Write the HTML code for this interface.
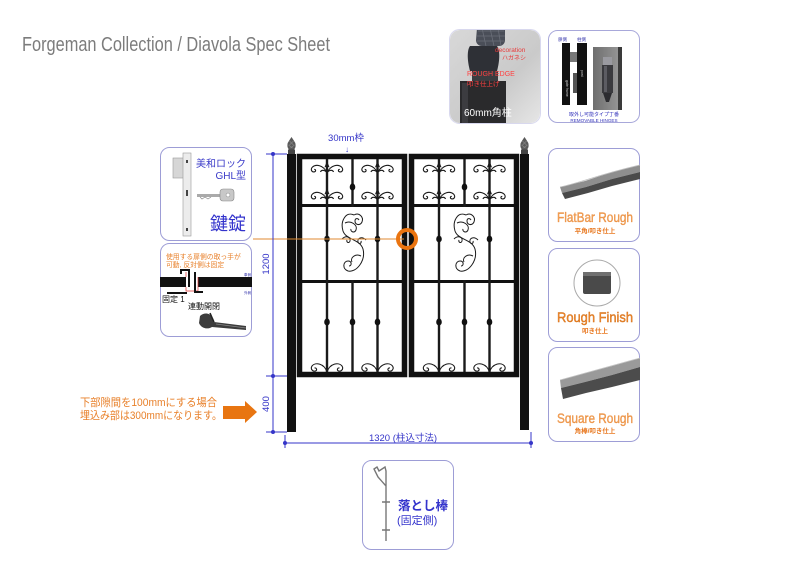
<!DOCTYPE html>
<html><head><meta charset="utf-8"><style>
html,body{margin:0;padding:0;background:#fff;}
svg{display:block;}
text{font-family:"Liberation Sans","Noto Sans CJK JP",sans-serif;}
</style></head><body>
<svg width="800" height="580" viewBox="0 0 800 580" xmlns="http://www.w3.org/2000/svg">
<defs>
  <linearGradient id="ph1" x1="0" y1="0" x2="1" y2="1">
    <stop offset="0" stop-color="#d8d8d8"/><stop offset="0.6" stop-color="#cacaca"/><stop offset="1" stop-color="#e6e6e6"/>
  </linearGradient>
  <linearGradient id="hg" x1="0" y1="0" x2="1" y2="0">
    <stop offset="0" stop-color="#6e6e6e"/><stop offset="1" stop-color="#9a9a9a"/>
  </linearGradient>
  <clipPath id="c1"><rect x="450" y="30" width="90" height="93" rx="10"/></clipPath>
  <g id="fleur" fill="none" stroke="#1a1a1a" stroke-width="1.1">
    <path d="M0,0 L2.6,6.5 L0.9,5.8 L0.9,12 L-0.9,12 L-0.9,5.8 L-2.6,6.5 Z" fill="#1a1a1a" stroke="none"/>
    <path d="M0.5,11 C4,4 11,3 14.5,6 C17,8.5 15,11.5 12.5,10.8 C10.8,10.2 11.2,8.2 12.8,8.4"/>
    <path d="M-0.5,11 C-4,4 -11,3 -14.5,6 C-17,8.5 -15,11.5 -12.5,10.8 C-10.8,10.2 -11.2,8.2 -12.8,8.4"/>
    <path d="M0.5,11 C3,8.5 6,9 6.5,11"/>
    <path d="M-0.5,11 C-3,8.5 -6,9 -6.5,11"/>
  </g>
  <g id="bcurl" fill="none" stroke="#1a1a1a" stroke-width="1.1">
    <path d="M0,10 C-3,1 -12,0 -15,4 C-17,7 -14,10 -11.5,9 C-9.5,8 -10.5,5.5 -12.5,6"/>
    <path d="M0,10 C3,1 12,0 15,4 C17,7 14,10 11.5,9 C9.5,8 10.5,5.5 12.5,6"/>
  </g>
  <g id="sscroll" fill="none" stroke="#1a1a1a" stroke-width="1">
    <path d="M0,6 C-8,2 -14,12 -11,22 C-8,31 6,30 9,40 C12,52 2,64 -6,62 C-12,60 -11,52 -6,52 C-2,52 -2,57 -5,57"/>
    <path d="M0,6 C5,3 10,8 8,13 C6,17 1,16 1,12 C1,9 4,9 5,11"/>
    <path d="M-9,14 C-3,11 4,16 2,21 C0,25 -4,22 -3,20"/>
    <path d="M-12,30 C-8,26 -3,28 -4,32 C-5,35 -8,33 -7,31"/>
    <path d="M12,31 C8,27 3,29 4,33 C5,36 8,34 7,32"/>
    <path d="M7,47 C1,44 -4,49 -2,53"/>
  </g>
  <g id="leaf">
    <rect x="2.5" y="2.5" width="105" height="218" fill="none" stroke="#111" stroke-width="5.5"/>
    <rect x="5" y="50" width="100" height="3" fill="#111"/>
    <rect x="5" y="126" width="100" height="3" fill="#111"/>
    <rect x="28.8" y="5" width="2.4" height="213" fill="#1a1a1a"/>
    <rect x="79.3" y="5" width="2.4" height="213" fill="#1a1a1a"/>
    <rect x="54.3" y="5" width="2.4" height="48" fill="#1a1a1a"/>
    <rect x="54.3" y="126" width="2.4" height="92" fill="#1a1a1a"/>
    <ellipse cx="55.5" cy="33" rx="2.8" ry="3.6" fill="#111"/>
    <ellipse cx="30" cy="85" rx="2.8" ry="3.4" fill="#111"/>
    <ellipse cx="80.5" cy="85" rx="2.8" ry="3.4" fill="#111"/>
    <ellipse cx="30" cy="168" rx="2.8" ry="3.6" fill="#111"/>
    <ellipse cx="55.5" cy="168" rx="2.8" ry="3.6" fill="#111"/>
    <ellipse cx="80.5" cy="168" rx="2.8" ry="3.6" fill="#111"/>
    <use href="#fleur" x="30" y="7"/>
    <use href="#fleur" x="80.5" y="7"/>
    <use href="#fleur" x="30" y="34"/>
    <use href="#fleur" x="80.5" y="34"/>
    <use href="#sscroll" x="57" y="55"/>
    <use href="#bcurl" x="30" y="208"/>
    <use href="#bcurl" x="80.5" y="208"/>
  </g>
  <g id="finial">
    <path d="M0,0 L2,3 L3.8,6 C4.5,9 4,11 2.5,12.5 L-2.5,12.5 C-4,11 -4.5,9 -3.8,6 L-2,3 Z" fill="#5a5a5a"/>
    <path d="M-2,4 L2,8 M2,4 L-2,8 M-3,8 L1,11 M3,8 L-1,11" stroke="#888" stroke-width="0.6"/>
    <rect x="-3.5" y="12.5" width="7" height="4.5" fill="#444"/>
  </g>
</defs>

<!-- Title -->
<text x="22" y="51" font-size="20" fill="#7c7c7c" textLength="308" lengthAdjust="spacingAndGlyphs">Forgeman Collection / Diavola Spec Sheet</text>

<!-- Photo 1 -->
<rect x="449.5" y="29.5" width="91" height="94" rx="10" fill="#fff" stroke="#d8d8ee"/>
<g clip-path="url(#c1)">
  <rect x="450" y="30" width="90" height="93" fill="url(#ph1)"/>
  <path d="M477,28 L505,28 L505,40 C505,44 502,46 499,46 L482,46 C478,46 476,43 476,40 Z" fill="#4a4e58"/>
  <path d="M478,31 L504,31 M477,36 L505,36 M477,41 L504,41 M482,28 L486,46 M490,28 L494,46 M498,28 L501,46" stroke="#6a6e78" stroke-width="0.8"/>
  <path d="M470,46 L497,46 C500,50 500,60 497,71 L470,71 C467,60 467,50 470,46 Z" fill="#2e3036"/>
  <rect x="472" y="71" width="26" height="12" fill="#3a3c40"/>
  <rect x="460" y="81" width="46" height="45" fill="#2a2a2c"/>
  <rect x="462" y="83" width="6" height="40" fill="#3c3c40"/>
  <text x="495" y="52" font-size="6.5" fill="#e83a3a">decoration</text>
  <text x="502" y="60" font-size="6" fill="#e83a3a">ハガネシ</text>
  <text x="467" y="76" font-size="7" fill="#ff4040">ROUGH EDGE</text>
  <text x="467" y="86" font-size="6.5" fill="#ff4040">叩き仕上げ</text>
  <text x="464" y="116" font-size="10" fill="#ffffff">60mm角柱</text>
</g>

<!-- Photo 2 hinges -->
<rect x="548.5" y="30.5" width="91" height="92" rx="9" fill="#fff" stroke="#a8a8da"/>
<text x="558" y="41" font-size="4.5" fill="#3333aa">扉側</text>
<text x="577" y="41" font-size="4.5" fill="#3333aa">柱側</text>
<rect x="562" y="43" width="8" height="62" fill="#111"/>
<rect x="577" y="43" width="10" height="62" fill="#111"/>
<rect x="570" y="52" width="7" height="10" fill="#777"/>
<rect x="573" y="73" width="4" height="20" fill="#555"/>
<text x="566" y="80" font-size="3.5" fill="#ccc" transform="rotate(90 566 80)">gate frame</text>
<text x="581" y="70" font-size="3.5" fill="#ccc" transform="rotate(90 581 70)">post</text>
<rect x="593" y="47" width="29" height="63" fill="url(#hg)"/>
<rect x="618" y="47" width="4" height="63" fill="#3a3a3a"/>
<rect x="603" y="57" width="9" height="8" fill="#9a9aa0"/>
<rect x="602" y="65" width="11" height="28" fill="#3a3a3e"/>
<rect x="604" y="66" width="3" height="26" fill="#5c5c62"/>
<path d="M603,93 L612,93 L609,102 L606,102 Z" fill="#2c2c30"/>
<text x="594" y="116" font-size="5" fill="#3333bb" text-anchor="middle">取外し可能タイプ丁番</text>
<text x="594" y="122" font-size="4.6" fill="#3333bb" text-anchor="middle">REMOVABLE HINGES</text>

<!-- Left panel 1: lock -->
<rect x="160.5" y="147.5" width="91" height="93" rx="9" fill="#fff" stroke="#9d9dd6"/>
<rect x="173" y="158" width="11" height="20" fill="#d6d6d6" stroke="#999" stroke-width="0.6"/>
<rect x="183" y="153" width="8" height="83" fill="#ececec" stroke="#999" stroke-width="0.6"/>
<rect x="186" y="160" width="2" height="3" fill="#444"/>
<rect x="186" y="190" width="2" height="6" fill="#444"/>
<rect x="186" y="228" width="2" height="3" fill="#444"/>
<path d="M197,194 L220,194 L220,197 L197,197 Z" fill="#aaa"/>
<path d="M200,197 L202,199 L205,197 L208,199 L211,197" stroke="#888" stroke-width="0.7" fill="none"/>
<rect x="220" y="189" width="14" height="12" rx="3" fill="#c8c8c8" stroke="#888" stroke-width="0.6"/>
<circle cx="228" cy="195" r="2" fill="#fff" stroke="#888" stroke-width="0.5"/>
<text x="246" y="167" font-size="10" fill="#3a3ac8" text-anchor="end">美和ロック</text>
<text x="246" y="179" font-size="10" fill="#3a3ac8" text-anchor="end">GHL型</text>
<text x="246" y="230" font-size="18" fill="#3333cc" text-anchor="end">鍵錠</text>

<!-- Left panel 2 -->
<rect x="160.5" y="243.5" width="91" height="93" rx="9" fill="#fff" stroke="#9d9dd6"/>
<text x="166" y="259" font-size="6.8" fill="#e8802a">使用する扉側の取っ手が</text>
<text x="166" y="267" font-size="6.8" fill="#e8802a">可動, 反対側は固定</text>
<rect x="160" y="277" width="92" height="10" fill="#111"/>
<rect x="186" y="272" width="12" height="19" fill="#fff"/>
<path d="M186,277 L186,272 M198,277 L198,291 L186,291 L186,287" stroke="#d33" stroke-width="0.7" fill="none"/>
<path d="M181,274 L181,270 L189,270 L189,287 M195,272 L195,292 L203,292" stroke="#111" stroke-width="2" fill="none"/>
<rect x="167" y="292" width="20" height="2" fill="#111"/>
<text x="244" y="276" font-size="3.5" fill="#3333aa">車側</text>
<text x="244" y="294" font-size="3.5" fill="#3333aa">外側</text>
<text x="162" y="302" font-size="8" fill="#111">固定 1</text>
<text x="188" y="309" font-size="8" fill="#111">連動開閉</text>
<path d="M200,316 C204,312 210,313 212,317 L214,322 L246,326 L246,330 L212,327 C207,330 201,328 199,323 Z" fill="#3c3c3c"/>
<path d="M210,313 L214,322" stroke="#222" stroke-width="1.5"/>
<path d="M216,324 L246,328" stroke="#888" stroke-width="0.8"/>

<!-- Right panels -->
<rect x="548.5" y="148.5" width="91" height="93" rx="9" fill="#fff" stroke="#9d9dd6"/>
<polygon points="560,187 585,181 612,172 640,165 640,172 612,179 586,187 562,193" fill="#8e8e8e"/>
<polygon points="562,193 586,187 612,179 640,172 640,179 612,186 588,193 565,199" fill="#4a4a4a"/>
<path d="M560,187 C580,183 600,174 640,165" stroke="#c0c0c0" stroke-width="0.8" fill="none"/>
<text x="595" y="222" font-size="14" fill="#f5a35c" stroke="#e07a20" stroke-width="0.3" text-anchor="middle" textLength="76" lengthAdjust="spacingAndGlyphs">FlatBar Rough</text>
<text x="595" y="233" font-size="6.5" fill="#e87820" font-weight="bold" text-anchor="middle">平角/叩き仕上</text>

<rect x="548.5" y="248.5" width="91" height="93" rx="9" fill="#fff" stroke="#9d9dd6"/>
<circle cx="597" cy="283" r="23" fill="#fff" stroke="#aaa"/>
<rect x="583" y="272" width="28" height="22" rx="2" fill="#4a4a4a"/>
<rect x="583" y="272" width="28" height="4" fill="#707070"/>
<text x="595" y="322" font-size="14" fill="#f08a30" stroke="#d06a10" stroke-width="0.4" text-anchor="middle" textLength="76" lengthAdjust="spacingAndGlyphs">Rough Finish</text>
<text x="595" y="333" font-size="6.5" fill="#e87820" font-weight="bold" text-anchor="middle">叩き仕上</text>

<rect x="548.5" y="347.5" width="91" height="94" rx="9" fill="#fff" stroke="#9d9dd6"/>
<polygon points="560,380 585,373 612,366 640,358 640,367 612,375 585,382 561,388" fill="#9a9a9a"/>
<polygon points="561,388 585,382 612,375 640,367 640,380 612,387 586,393 563,399" fill="#4c4c4c"/>
<path d="M560,380 C585,373 610,366 640,358" stroke="#c4c4c4" stroke-width="0.8" fill="none"/>
<text x="595" y="423" font-size="14" fill="#f5a35c" stroke="#e07a20" stroke-width="0.3" text-anchor="middle" textLength="76" lengthAdjust="spacingAndGlyphs">Square Rough</text>
<text x="595" y="433" font-size="6.5" fill="#e87820" font-weight="bold" text-anchor="middle">角棒/叩き仕上</text>

<!-- Bottom panel -->
<rect x="362.5" y="460.5" width="91" height="89" rx="9" fill="#fff" stroke="#9d9dd6"/>
<path d="M386,541 L386,486 L378,477 L374,469 L377,467 L379,471 L382,469 L385,467 L386,471 L386,486" stroke="#777" stroke-width="1.4" fill="none"/>
<path d="M382,502 L390,502 M382,530 L390,530" stroke="#777" stroke-width="1.4"/>
<text x="398" y="510" font-size="12.5" fill="#3333cc" font-weight="bold">落とし棒</text>
<text x="397" y="524" font-size="11" fill="#3333cc">(固定側)</text>

<!-- Gate posts -->
<rect x="287" y="154" width="9" height="278" fill="#111"/>
<rect x="520" y="154" width="9" height="276" fill="#111"/>
<use href="#finial" x="291.5" y="137"/>
<use href="#finial" x="524.5" y="137"/>

<!-- Gate leaves -->
<use href="#leaf" x="297" y="154"/>
<use href="#leaf" x="409" y="154"/>

<!-- Orange line and circle -->
<line x1="253" y1="239" x2="404" y2="239" stroke="#e08a30" stroke-width="1"/>
<circle cx="407" cy="239" r="9" fill="none" stroke="#ea7410" stroke-width="4"/>

<!-- Dimensions -->
<g stroke="#3535c8" stroke-width="1" fill="none">
  <line x1="273" y1="154" x2="273" y2="432"/>
  <line x1="266" y1="154" x2="287" y2="154"/>
  <line x1="266" y1="376" x2="287" y2="376"/>
  <line x1="266" y1="432" x2="287" y2="432"/>
  <line x1="285" y1="443" x2="531" y2="443"/>
  <line x1="285" y1="435" x2="285" y2="448"/>
  <line x1="531" y1="432" x2="531" y2="448"/>
</g>
<g fill="#3535c8">
  <circle cx="273" cy="154" r="2"/><circle cx="273" cy="376" r="2"/><circle cx="273" cy="432" r="2"/>
  <circle cx="285" cy="443" r="2"/><circle cx="531" cy="443" r="2"/>
</g>
<text x="269" y="264" font-size="9.5" fill="#3535c8" text-anchor="middle" transform="rotate(-90 269 264)">1200</text>
<text x="269" y="404" font-size="9.5" fill="#3535c8" text-anchor="middle" transform="rotate(-90 269 404)">400</text>
<text x="403" y="441" font-size="9.5" fill="#3535c8" text-anchor="middle">1320 (柱込寸法)</text>
<text x="346" y="141" font-size="9.5" fill="#3535c8" text-anchor="middle">30mm枠</text>
<text x="347" y="152" font-size="8" fill="#3535c8" text-anchor="middle">↓</text>

<!-- Orange note & arrow -->
<text x="80" y="406" font-size="11" fill="#e8802a" textLength="137" lengthAdjust="spacingAndGlyphs">下部隙間を100mmにする場合</text>
<text x="80" y="419" font-size="11" fill="#e8802a" textLength="142" lengthAdjust="spacingAndGlyphs">埋込み部は300mmになります。</text>
<polygon points="223,406 245,406 245,401 257,412 245,423 245,419 223,419" fill="#e87511"/>
</svg>
</body></html>
